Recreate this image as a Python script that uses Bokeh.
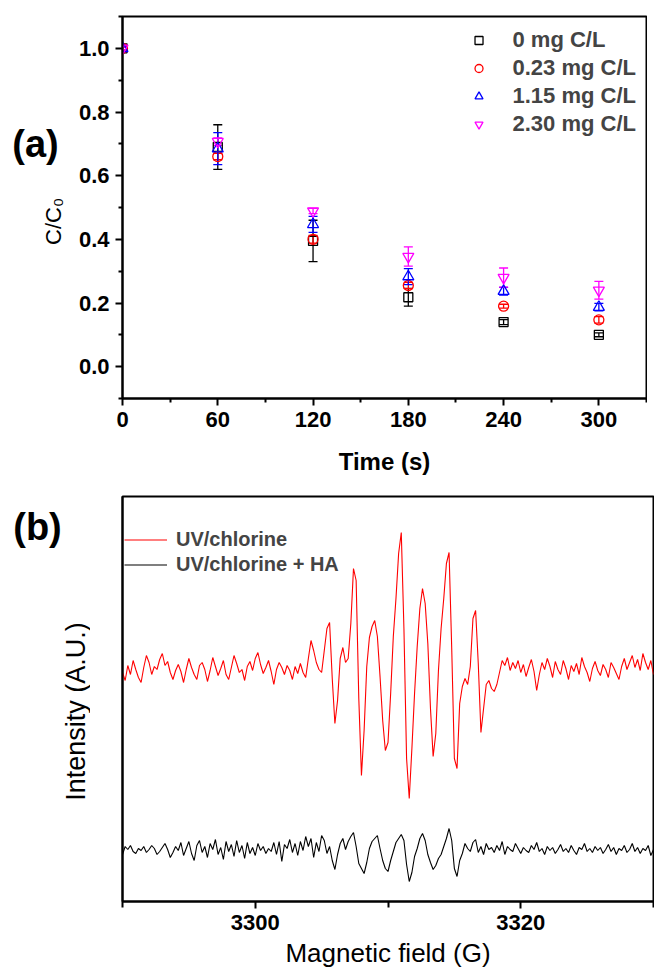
import numpy as np
from bokeh.plotting import figure
from bokeh.models import (ColumnDataSource, Whisker, TeeHead, Legend, LegendItem,
                          FixedTicker, PrintfTickFormatter, Range1d)
from bokeh.core.properties import value
from bokeh.layouts import column, row
from bokeh.embed import file_html
from bokeh.resources import INLINE

FONT = "Liberation Sans"

# ---------------- panel (a) data ----------------
time_s = [0, 60, 120, 180, 240, 300]
series_labels = ["0 mg C/L", "0.23 mg C/L", "1.15 mg C/L", "2.30 mg C/L"]
ha_0_mean = [1.0, 0.69, 0.395, 0.218, 0.14, 0.10]
ha_0_err = [0.005, 0.07, 0.065, 0.028, 0.008, 0.006]
ha_023_mean = [1.0, 0.66, 0.40, 0.255, 0.19, 0.147]
ha_023_err = [0.005, 0.01, 0.012, 0.01, 0.006, 0.01]
ha_115_mean = [1.0, 0.685, 0.447, 0.283, 0.237, 0.187]
ha_115_err = [0.01, 0.05, 0.025, 0.025, 0.012, 0.012]
ha_230_mean = [1.0, 0.707, 0.489, 0.346, 0.28, 0.24]
ha_230_err = [0.005, 0.012, 0.008, 0.03, 0.03, 0.028]
x_ticks_a = [0, 60, 120, 180, 240, 300]
x_minor_a = [30, 90, 150, 210, 270, 330]
y_ticks_a = [0.0, 0.2, 0.4, 0.6, 0.8, 1.0]
y_minor_a = [-0.1, 0.1, 0.3, 0.5, 0.7, 0.9, 1.1]

# ---------------- panel (b) data ----------------
field_start = 3290.0
field_step = 0.2
uv_chlorine = [
    226, 218, 233, 224, 238, 229, 221, 216, 231, 243,
    236, 224, 232, 229, 239, 245, 233, 237, 226, 219,
    228, 234, 227, 216, 229, 240, 231, 224, 219, 233,
    236, 229, 217, 228, 241, 232, 223, 230, 238, 224,
    219, 231, 243, 235, 226, 229, 218, 232, 237, 228,
    240, 246, 234, 225, 231, 238, 227, 214, 229, 236,
    231, 224, 233, 228, 219, 232, 225, 235, 226, 221,
    240, 258, 248, 236, 229, 226, 248, 270, 276, 220,
    175, 198, 240, 251, 236, 240, 275, 330, 318, 200,
    123, 168, 232, 261, 272, 278, 262, 222, 178, 148,
    156, 205, 262, 300, 345, 366, 270, 140, 100, 150,
    205, 252, 290, 310, 295, 255, 190, 142, 165, 228,
    270, 300, 335, 346, 250, 140, 130, 195, 212, 220,
    214, 232, 280, 288, 235, 166, 190, 214, 218, 210,
    207, 214, 226, 238, 233, 241, 228, 236, 230, 238,
    226, 234, 222, 231, 239, 227, 208, 224, 236, 229,
    240, 232, 221, 237, 229, 224, 238, 230, 219, 233,
    227, 235, 224, 241, 232, 226, 217, 230, 237, 228,
    223, 234, 229, 221, 236, 231, 225, 219, 232, 240,
    229, 236, 243, 231, 239, 228, 245, 236, 229, 238,
    224,
]
uv_chlorine_ha = [
    44, 52, 49, 53, 47, 45, 50, 48, 52, 46,
    49, 53, 50, 44, 47, 51, 55, 49, 41, 46,
    52, 48, 56, 43, 50, 57, 45, 38, 53, 58,
    46, 52, 41, 55, 49, 59, 44, 51, 39, 57,
    47, 54, 42, 58, 46, 53, 40, 56, 45, 51,
    43, 55, 48, 52, 45, 50, 47, 56, 44, 57,
    37, 54, 50, 59, 46, 55, 43, 57, 48, 62,
    52, 60, 41, 56, 47, 63, 58, 45, 52, 38,
    29, 44, 55, 60, 49, 57, 62, 66, 52, 35,
    30, 25, 36, 50, 57, 60, 63, 50, 38, 30,
    27, 38, 47, 56, 60, 64, 58, 34, 17, 26,
    42, 50, 60, 65, 58, 44, 36, 29, 33, 40,
    44, 52, 60, 70, 58, 30, 22, 38, 45, 55,
    50, 47, 56, 59, 46, 52, 44, 55, 49, 51,
    46, 53, 48, 57, 44, 52, 49, 47, 55, 50,
    45, 51, 48, 46, 53, 49, 56, 47, 50, 44,
    52, 48, 51, 45, 49, 54, 47, 50, 46, 53,
    48, 44, 51, 49, 55, 47, 50, 46, 52, 48,
    51, 45, 49, 54, 47, 51, 44, 50, 48, 53,
    46, 49, 55, 47, 51, 45, 50, 48, 53, 43,
    49,
]
x_ticks_b = [3300, 3320]
x_minor_b = [3290, 3310, 3330]
spectrum_labels = ["UV/chlorine", "UV/chlorine + HA"]

H1 = 486
H2 = 487


def style_axes(p, tick_size, label_size):
    for ax in (p.xaxis[0], p.yaxis[0]):
        ax.axis_line_width = 2
        ax.axis_line_color = "black"
        ax.major_tick_line_width = 2
        ax.minor_tick_line_width = 2
        ax.major_tick_in = 0
        ax.minor_tick_in = 0
        ax.major_tick_out = 7
        ax.minor_tick_out = 4
        ax.major_label_text_font = FONT
        ax.major_label_text_font_size = tick_size
        ax.major_label_text_font_style = "bold"
        ax.major_label_text_color = "black"
        ax.axis_label_text_font = FONT
        ax.axis_label_text_font_size = label_size
        ax.axis_label_text_color = "black"
        ax.major_label_standoff = 6
    p.xgrid.visible = False
    p.ygrid.visible = False
    p.outline_line_color = "black"
    p.outline_line_width = 2
    p.outline_line_alpha = 1.0


def label_panel(width, height, y_top, y_bottom):
    # side strip; its frame gets aligned with the neighbouring plot frame,
    # so its vertical range spans that frame's page rows
    f = figure(width=width, height=height, x_range=Range1d(0, width),
               y_range=Range1d(y_bottom, y_top), x_axis_type=None, y_axis_type=None,
               min_border=0, output_backend="svg", toolbar_location=None)
    f.outline_line_color = None
    f.xgrid.visible = False
    f.ygrid.visible = False
    return f


def side_text(f, x, y, txt, size, style, angle=0.0):
    f.text(x=[x], y=[y], text=[txt], angle=angle, text_font=value(FONT),
           text_font_size=value(size), text_font_style=value(style),
           text_color="black", text_align="center", text_baseline="middle")


# ---------------- panel (a) ----------------
p1 = figure(frame_width=524, frame_height=382, min_border_left=48,
            min_border_right=1, min_border_top=16, min_border_bottom=88,
            x_range=Range1d(0, 330), y_range=Range1d(-0.1, 1.1),
            output_backend="svg", toolbar_location=None)
style_axes(p1, "22px", "24px")
p1.xaxis.ticker = FixedTicker(ticks=x_ticks_a, minor_ticks=x_minor_a)
p1.yaxis.ticker = FixedTicker(ticks=y_ticks_a, minor_ticks=y_minor_a)
p1.yaxis.formatter = PrintfTickFormatter(format="%.1f")
p1.xaxis.axis_label = "Time (s)"
p1.xaxis.axis_label_text_font_style = "bold"
p1.xaxis.axis_label_standoff = 18

series = [
    (ha_0_mean, ha_0_err, "black", "square", 9),
    (ha_023_mean, ha_023_err, "#ff0000", "circle", 10),
    (ha_115_mean, ha_115_err, "#0000ff", "triangle", 11),
    (ha_230_mean, ha_230_err, "#ff00ff", "inverted_triangle", 11),
]
items = []
for (mean, err, color, marker, size), lab in zip(series, series_labels):
    m = np.array(mean)
    e = np.array(err)
    src = ColumnDataSource(dict(x=time_s, y=mean, upper=m + e, lower=m - e))
    r = p1.scatter("x", "y", source=src, marker=marker, size=size,
                   line_color=color, fill_color=None, line_width=1.3)
    w = Whisker(source=src, base="x", upper="upper", lower="lower",
                line_color=color, line_width=1.3,
                upper_head=TeeHead(size=9, line_color=color, line_width=1.3),
                lower_head=TeeHead(size=9, line_color=color, line_width=1.3))
    p1.add_layout(w)
    items.append(LegendItem(label=lab, renderers=[r]))

leg1 = Legend(items=items, location="top_right")
leg1.label_text_font = FONT
leg1.label_text_font_size = "22px"
leg1.label_text_font_style = "bold"
leg1.label_height = 28
leg1.glyph_height = 28
leg1.glyph_width = 20
leg1.label_standoff = 24
leg1.spacing = 0
leg1.padding = 4
leg1.margin = 6
leg1.border_line_alpha = 0
leg1.background_fill_alpha = 0
p1.add_layout(leg1)

la = label_panel(74, H1, 16, 398)
side_text(la, 35, 143, "(a)", "38px", "bold")
side_text(la, 53, 221, "C/C\u2080", "22px", "normal", angle=np.pi / 2)

# ---------------- panel (b) ----------------
p2 = figure(frame_width=531, frame_height=405, min_border_left=32,
            min_border_right=1, min_border_top=10, min_border_bottom=72,
            x_range=Range1d(3290, 3330), y_range=Range1d(-3, 402),
            output_backend="svg", toolbar_location=None)
style_axes(p2, "22px", "26px")
p2.xaxis.ticker = FixedTicker(ticks=x_ticks_b, minor_ticks=x_minor_b)
p2.xaxis.minor_tick_out = 6
p2.yaxis.ticker = FixedTicker(ticks=[], minor_ticks=[])
p2.xaxis.axis_label = "Magnetic field (G)"
p2.xaxis.axis_label_text_font_style = "normal"
p2.xaxis.axis_label_standoff = 5

field = field_start + field_step * np.arange(len(uv_chlorine))
src_b = ColumnDataSource(dict(field=field, red=uv_chlorine, black=uv_chlorine_ha))
r_red = p2.line("field", "red", source=src_b, line_color="#ff0000", line_width=1.1)
r_blk = p2.line("field", "black", source=src_b, line_color="black", line_width=1.1)

leg2 = Legend(items=[LegendItem(label=spectrum_labels[0], renderers=[r_red]),
                     LegendItem(label=spectrum_labels[1], renderers=[r_blk])],
              location=(2, 324))
leg2.label_text_font = FONT
leg2.label_text_font_size = "20px"
leg2.label_text_font_style = "bold"
leg2.label_height = 25
leg2.glyph_height = 25
leg2.glyph_width = 43
leg2.label_standoff = 9
leg2.spacing = 0
leg2.padding = 0
leg2.margin = 0
leg2.border_line_alpha = 0
leg2.background_fill_alpha = 0
p2.add_layout(leg2)

lb = label_panel(90, H2, 496, 901)
side_text(lb, 37, 526, "(b)", "38px", "bold")
side_text(lb, 75, 711, "Intensity (A.U.)", "27px", "normal", angle=np.pi / 2)

layout = column(row(la, p1, spacing=0), row(lb, p2, spacing=0), spacing=0)
open("out.html", "w").write(file_html(layout, INLINE))
